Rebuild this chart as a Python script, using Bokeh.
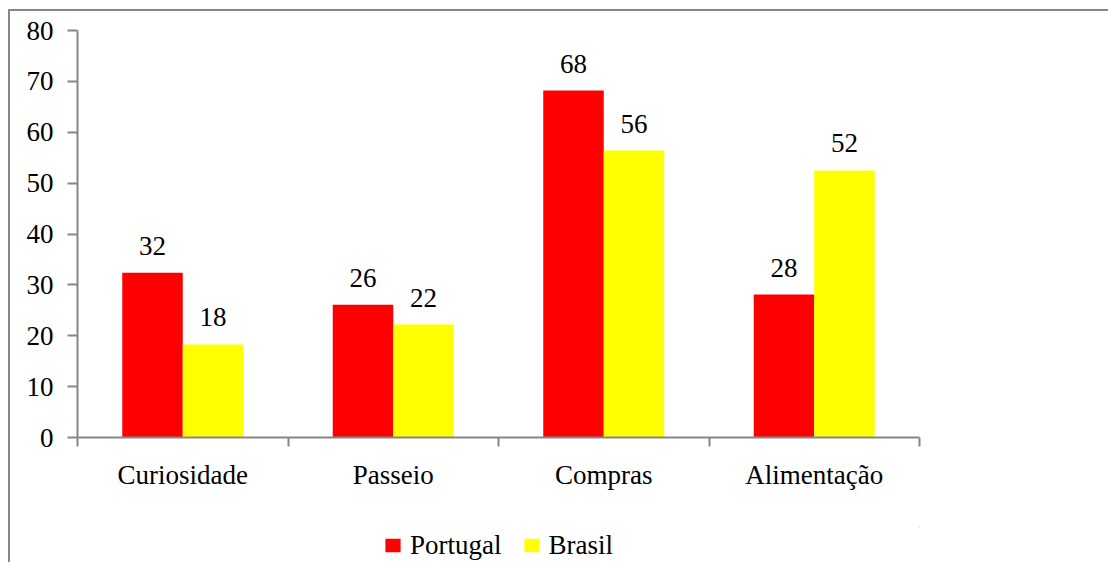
import numpy as np
from bokeh.plotting import figure
from bokeh.layouts import column
from bokeh.models import (ColumnDataSource, Range1d, FixedTicker, LabelSet, Legend,
                          LegendItem, LinearAxis, InlineStyleSheet)
from bokeh.transform import dodge
from bokeh.embed import file_html
from bokeh.resources import INLINE

categories = ["Curiosidade", "Passeio", "Compras", "Alimentação"]
portugal = [32.4, 26.1, 68.2, 28.1]
brasil = [18.3, 22.2, 56.4, 52.5]
series_names = ["Portugal", "Brasil"]
series_colors = ["#FF0000", "#FFFF00"]
y_ticks = [0, 10, 20, 30, 40, 50, 60, 70, 80]

FONT = "Liberation Serif"
FS = "27px"
GRAY = "#868686"

W, H = 1108, 562
MAIN_H = 510
LEFT, RIGHT, TOP = 77, 189, 30
BOTTOM = MAIN_H - 437
BAR_W = 0.2874

centers = np.arange(len(categories)) + 0.5
src = ColumnDataSource(dict(
    x=centers,
    cat=categories,
    pt=portugal,
    br=brasil,
    pt_lbl=[f"{v:.0f}" for v in portugal],
    br_lbl=[f"{v:.0f}" for v in brasil],
))

p = figure(width=W, height=MAIN_H, output_backend="svg", toolbar_location=None,
           x_range=Range1d(0, len(categories)), y_range=Range1d(0, 80),
           min_border_left=LEFT, min_border_right=RIGHT,
           min_border_top=TOP, min_border_bottom=BOTTOM,
           x_axis_type=None, y_axis_type=None)
p.outline_line_color = None
p.grid.visible = False
p.background_fill_color = "white"
p.border_fill_color = "white"

# y axis
ya = LinearAxis(ticker=FixedTicker(ticks=y_ticks, minor_ticks=[]))
ya.axis_line_color = GRAY
ya.axis_line_width = 2
ya.major_tick_line_color = GRAY
ya.major_tick_line_width = 2
ya.major_tick_out = 10
ya.major_tick_in = 0
ya.minor_tick_line_color = None
ya.major_label_text_font = FONT
ya.major_label_text_font_size = FS
ya.major_label_text_color = "black"
ya.major_label_standoff = 14
p.add_layout(ya, "left")

# x axis: labels at category centers, ticks at category boundaries
xa = LinearAxis(ticker=FixedTicker(ticks=list(centers),
                                   minor_ticks=list(range(len(categories) + 1))))
xa.major_label_overrides = {float(c): n for c, n in zip(centers, categories)}
xa.axis_line_color = GRAY
xa.axis_line_width = 2
xa.major_tick_line_color = None
xa.major_tick_out = 9
xa.major_tick_in = 0
xa.minor_tick_line_color = GRAY
xa.minor_tick_line_width = 2
xa.minor_tick_out = 9
xa.minor_tick_in = 0
xa.major_label_text_font = FONT
xa.major_label_text_font_size = FS
xa.major_label_text_color = "black"
xa.major_label_standoff = 13
p.add_layout(xa, "below")

p.vbar(x=dodge("x", -BAR_W / 2, range=p.x_range), top="pt", width=BAR_W,
       source=src, fill_color=series_colors[0], line_color=None)
p.vbar(x=dodge("x", BAR_W / 2, range=p.x_range), top="br", width=BAR_W,
       source=src, fill_color=series_colors[1], line_color=None)

for col, lbl, off in (("pt", "pt_lbl", -BAR_W / 2), ("br", "br_lbl", BAR_W / 2)):
    ls = LabelSet(x=dodge("x", off, range=p.x_range), y=col, text=lbl, source=src,
                  text_align="center", text_baseline="alphabetic", y_offset=18,
                  text_font=FONT, text_font_size=FS, text_color="black")
    p.add_layout(ls)

# legend strip below the chart (its proxy bars lie far outside this strip's ranges)
lf = figure(width=W, height=H - MAIN_H, output_backend="svg", toolbar_location=None,
            x_range=Range1d(-1000, -999), y_range=Range1d(-2000, -1000),
            min_border_left=LEFT, min_border_right=RIGHT,
            min_border_top=17, min_border_bottom=0,
            x_axis_type=None, y_axis_type=None)
lf.outline_line_color = None
lf.grid.visible = False
lf.border_fill_color = "white"
items = []
for name, color, col in zip(series_names, series_colors, ("pt", "br")):
    r = lf.vbar(x="x", top=col, width=BAR_W, source=src,
                fill_color=color, line_color=None)
    items.append(LegendItem(label=name, renderers=[r]))
legend = Legend(items=items, orientation="horizontal", location="center")
legend.label_text_font = FONT
legend.label_text_font_size = FS
legend.label_text_color = "black"
legend.glyph_width = 19
legend.glyph_height = 17
legend.label_standoff = 8
legend.spacing = 20
legend.padding = 0
legend.margin = 0
legend.border_line_color = None
legend.background_fill_alpha = 0
lf.add_layout(legend, "center")

layout = column(p, lf, spacing=0)
# outer chart-area border (only its top and left edges fall inside the window)
layout.stylesheets = [InlineStyleSheet(css="""
:host { position: relative; }
:host::after {
  content: ""; position: absolute; left: 8px; top: 9px;
  width: calc(100% - 8px); height: calc(100% - 9px); box-sizing: border-box;
  border-left: 2px solid #868686; border-top: 2px solid #868686;
  pointer-events: none; z-index: 10;
}
""")]

open("out.html", "w").write(file_html(layout, INLINE))
